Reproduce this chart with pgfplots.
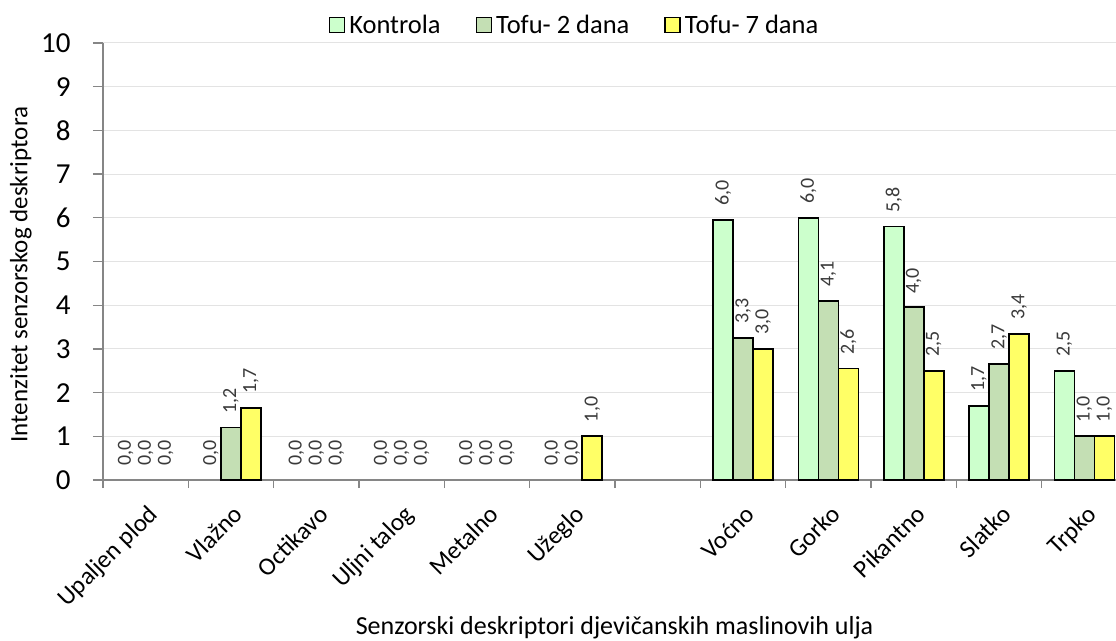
\documentclass[border=0pt]{standalone}
\usepackage{fontspec}
\setmainfont{Carlito}
\usepackage{pgfplots}
\usepackage{pgfplotstable}
\pgfplotsset{compat=1.18}

\definecolor{kontrola}{HTML}{CCFFCC}
\definecolor{tofudva}{HTML}{C4DFB4}
\definecolor{tofusedam}{HTML}{FFFF66}
\definecolor{osi}{HTML}{868686}
\definecolor{mreza}{HTML}{E3E3E3}
\definecolor{oznaka}{HTML}{3A3A3A}

% x = redni broj kategorije (6 je prazno mjesto)
\pgfplotstableread{
x y lab
0 0 0,0
1 0 0,0
2 0 0,0
3 0 0,0
4 0 0,0
5 0 0,0
7 5.95 6,0
8 6.0 6,0
9 5.8 5,8
10 1.7 1,7
11 2.5 2,5
}\kontrola

\pgfplotstableread{
x y lab
0 0 0,0
1 1.2 1,2
2 0 0,0
3 0 0,0
4 0 0,0
5 0 0,0
7 3.25 3,3
8 4.1 4,1
9 3.95 4,0
10 2.65 2,7
11 1.0 1,0
}\tofudva

\pgfplotstableread{
x y lab
0 0 0,0
1 1.65 1,7
2 0 0,0
3 0 0,0
4 0 0,0
5 1.0 1,0
7 3.0 3,0
8 2.55 2,6
9 2.5 2,5
10 3.35 3,4
11 1.0 1,0
}\tofusedam

\begin{document}
\begin{tikzpicture}
\begin{axis}[
    at={(0pt,0pt)}, anchor=south west,
    scale only axis,
    width=1013pt, height=437pt,
    xmin=-0.5, xmax=11.37,
    ymin=0, ymax=10,
    ytick={0,1,...,10},
    xtick={0,...,11},
    xticklabels={Upaljen plod,Vlažno,Octikavo,Uljni talog,Metalno,Užeglo,{},Voćno,Gorko,Pikantno,Slatko,Trpko},
    minor xtick={-0.5,0.5,...,11.5},
    axis x line*=bottom,
    axis y line*=left,
    axis line style={osi, line width=1.3pt},
    tick align=outside,
    major tick length=10pt,
    minor tick length=8pt,
    tick style={osi, line width=1.3pt},
    major x tick style={draw=none},
    ymajorgrids,
    grid style={mreza, line width=1pt},
    /pgf/number format/assume math mode=true,
    yticklabel style={font=\fontsize{29pt}{34pt}\selectfont, xshift=-19pt},
    xticklabel style={font=\fontsize{25pt}{30pt}\selectfont, yshift=-12pt, xshift=1pt, rotate=45, anchor=north east, inner sep=1pt},
    ylabel={Intenzitet senzorskog deskriptora},
    ylabel style={font=\fontsize{25pt}{30pt}\selectfont, at={(axis description cs:-0.081,0.47)}, anchor=center},
    xlabel={Senzorski deskriptori djevičanskih maslinovih ulja},
    xlabel style={font=\fontsize{26pt}{31pt}\selectfont, at={(axis description cs:0.505,-0.337)}, anchor=center},
    legend columns=3,
    legend style={draw=none, fill=none, at={(0.465,1.041)}, anchor=center,
        font=\fontsize{26.5pt}{31pt}\selectfont,
        /tikz/every odd column/.append style={column sep=3pt},
        /tikz/every even column/.append style={column sep=34pt},
        nodes={inner sep=1pt}},
    legend image code/.code={\draw[#1, line width=1.5pt] (0pt,-7.5pt) rectangle (15pt,7.5pt);},
    unbounded coords=discard,
]
% stupci (nule se ne crtaju)
\addplot[ybar, bar width=20pt, bar shift=-20pt, fill=kontrola, draw=black, line width=1.8pt,
    y filter/.expression={y==0 ? nan : y}] table[x=x, y=y] {\kontrola};
\addplot[ybar, bar width=20pt, bar shift=0pt, fill=tofudva, draw=black, line width=1.8pt,
    y filter/.expression={y==0 ? nan : y}] table[x=x, y=y] {\tofudva};
\addplot[ybar, bar width=20pt, bar shift=20pt, fill=tofusedam, draw=black, line width=1.8pt,
    y filter/.expression={y==0 ? nan : y}] table[x=x, y=y] {\tofusedam};
\legend{Kontrola, Tofu- 2 dana, Tofu- 7 dana}

% oznake vrijednosti iznad stupaca
\pgfplotsset{oznake/.style={draw=none, mark=none, forget plot,
    point meta=explicit symbolic, nodes near coords,
    every node near coord/.append style={xshift=#1, rotate=90, anchor=west, text=oznaka,
        font=\fontsize{20pt}{24pt}\selectfont, inner xsep=14pt, inner ysep=0pt}}}
\addplot[oznake=-20pt] table[x=x, y=y, meta=lab] {\kontrola};
\addplot[oznake=0pt] table[x=x, y=y, meta=lab] {\tofudva};
\addplot[oznake=20pt] table[x=x, y=y, meta=lab] {\tofusedam};
\end{axis}
\pgfresetboundingbox
\path[use as bounding box] (-103pt,-160pt) rectangle (1013pt,480pt);
\end{tikzpicture}
\end{document}
